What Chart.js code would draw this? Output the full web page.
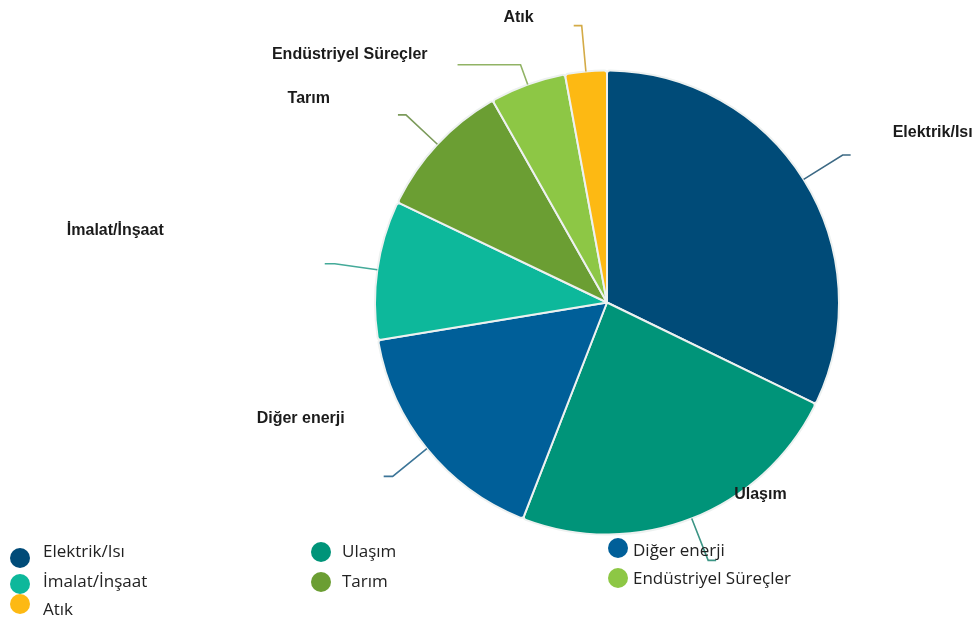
<!DOCTYPE html>
<html lang="tr">
<head>
<meta charset="utf-8">
<title>Sektörlere göre emisyonlar</title>
<script src="https://cdn.jsdelivr.net/npm/chart.js@4/dist/chart.umd.min.js"></script>
<style>
html, body { margin: 0; padding: 0; background: #fff; }
#kutu { position: relative; width: 979px; height: 622px; }
</style>
</head>
<body>
<div id="kutu"><canvas id="emisyon-chart"></canvas></div>
<script>
// sektör adları ve payları (%)
var sektorler = ['Elektrik/Isı', 'Ulaşım', 'Diğer enerji', 'İmalat/İnşaat', 'Tarım', 'Endüstriyel Süreçler', 'Atık'];
var paylar = [32.2, 23.7, 16.5, 9.7, 9.7, 5.3, 2.9];
var renkler = ['#004b78', '#009479', '#005f99', '#0db89b', '#6b9e33', '#8dc745', '#fdb913'];

// etiket çizgileri: dışa doğru uzunluk, yatay uzunluk, yazının çizgi ucuna göre kayması
var cizgiBoyu = [46, 45, 44, 43, 43, 21, 46];
var yatayBoyu = [8, 8, 9, 10, 8, 63, 8];
var etiketKayma = [[42, -22], [18, -66], [-39, -58], [-161, -33], [-68, -16], [-30, -10], [-40, -8]];

// lejant düzeni: sütun x konumları, her sütundaki işaret ve yazı y'leri
var lejantSutunX = [20, 321, 618];
var lejantYaziAraligi = [23, 21, 15];
var lejantIsaretY = [[558, 584, 604], [552, 582], [548, 578]];
var lejantYaziY = [[552, 582, 610], [552, 582], [551, 579]];

// rengi griyle karıştır (çizgiler için)
function griyeKaristir(hex, oran) {
    var r = parseInt(hex.substr(1, 2), 16), g = parseInt(hex.substr(3, 2), 16), b = parseInt(hex.substr(5, 2), 16);
    var gri = 150;
    return 'rgb(' + Math.round(r + (gri - r) * oran) + ',' + Math.round(g + (gri - g) * oran) + ',' + Math.round(b + (gri - b) * oran) + ')';
}

// dilimlerin dışına çizgi ve kalın etiket çizen eklenti
var etiketEklentisi = {
    id: 'disEtiketler',
    afterDatasetsDraw: function (chart) {
        var ctx = chart.ctx;
        var meta = chart.getDatasetMeta(0);
        ctx.save();
        meta.data.forEach(function (arc, i) {
            var p = arc.getProps(['x', 'y', 'startAngle', 'endAngle', 'outerRadius'], true);
            var orta = (p.startAngle + p.endAngle) / 2;
            var cx = Math.cos(orta), cy = Math.sin(orta);
            var x0 = p.x + cx * p.outerRadius, y0 = p.y + cy * p.outerRadius;
            var x1 = x0 + cx * cizgiBoyu[i], y1 = y0 + cy * cizgiBoyu[i];
            var yon = cx >= 0 ? 1 : -1;
            var x2 = x1 + yon * yatayBoyu[i];

            ctx.strokeStyle = griyeKaristir(renkler[i], 0.4);
            ctx.lineWidth = 1.6;
            ctx.beginPath();
            ctx.moveTo(x0, y0);
            ctx.lineTo(x1, y1);
            ctx.lineTo(x2, y1);
            ctx.stroke();

            ctx.fillStyle = '#1b1b1b';
            ctx.font = 'bold 16px "Liberation Sans", Arial, sans-serif';
            ctx.textBaseline = 'middle';
            ctx.textAlign = yon > 0 ? 'left' : 'right';
            ctx.fillText(chart.data.labels[i], x2 + etiketKayma[i][0], y1 + etiketKayma[i][1]);
        });
        ctx.restore();
    }
};

// alttaki üç sütunlu lejant
var lejantEklentisi = {
    id: 'altLejant',
    afterDraw: function (chart) {
        var ctx = chart.ctx;
        var adet = chart.data.labels.length;
        ctx.save();
        ctx.font = '17px "Open Sans", sans-serif';
        ctx.textBaseline = 'middle';
        ctx.textAlign = 'left';
        // satır satır doldur: her satırda üç sütun
        for (var sira = 0; sira < adet; sira++) {
            var s = sira % 3, satir = Math.floor(sira / 3);
            var x = lejantSutunX[s];
            ctx.fillStyle = renkler[sira];
            ctx.beginPath();
            ctx.arc(x, lejantIsaretY[s][satir], 10, 0, Math.PI * 2);
            ctx.fill();
            ctx.fillStyle = '#222';
            ctx.fillText(chart.data.labels[sira], x + lejantYaziAraligi[s], lejantYaziY[s][satir]);
        }
        ctx.restore();
    }
};

var emisyonChart = new Chart(document.getElementById('emisyon-chart'), {
    type: 'pie',
    data: {
        labels: sektorler,
        datasets: [{
            data: paylar,
            backgroundColor: renkler,
            borderColor: '#edf1f0',
            borderWidth: 2,
            borderRadius: 3,
            hoverOffset: 0
        }]
    },
    options: {
        responsive: true,
        maintainAspectRatio: false,
        animation: false,
        events: [],
        layout: {
            padding: { left: 374, right: 139, top: 69, bottom: 86 }
        },
        plugins: {
            legend: { display: false },
            tooltip: { enabled: false }
        }
    },
    plugins: [etiketEklentisi, lejantEklentisi]
});
</script>
</body>
</html>
